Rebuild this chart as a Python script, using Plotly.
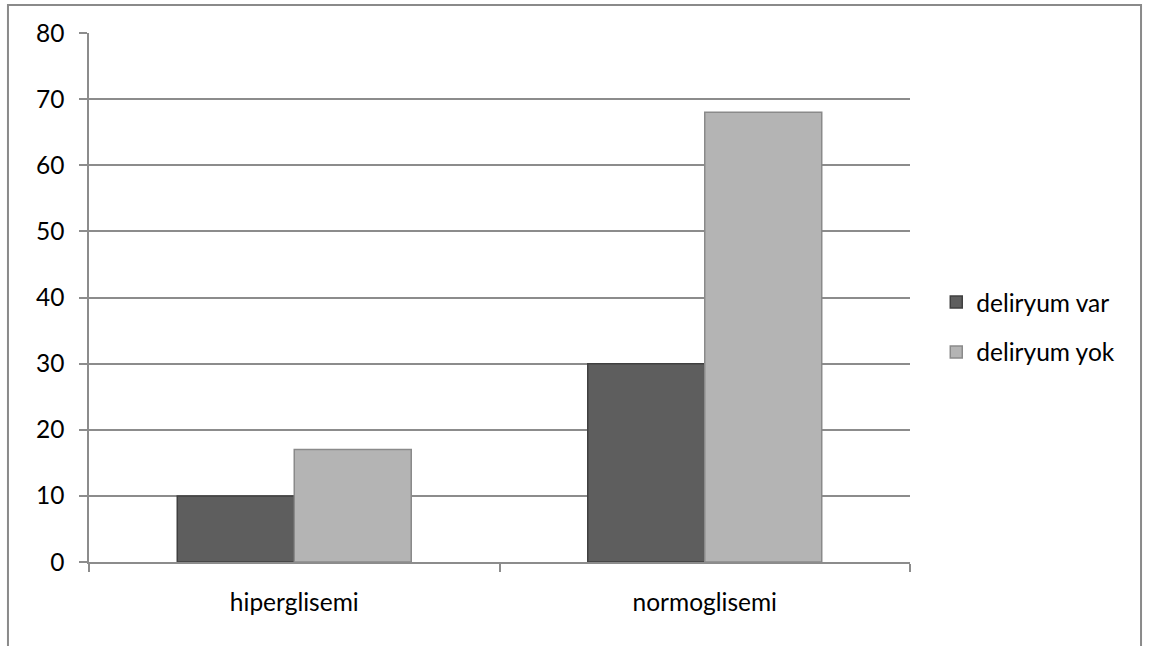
import plotly.graph_objects as go

# Data
categories = ["hiperglisemi", "normoglisemi"]
deliryum_var = [10, 30]
deliryum_yok = [17, 68]
series_names = ["deliryum var", "deliryum yok"]
y_ticks = [0, 10, 20, 30, 40, 50, 60, 70, 80]

FONT = dict(family="Lato, 'Open Sans', sans-serif", size=24.5, color="#000000")
GRID = "#8c8c8c"

fig = go.Figure()
fig.add_trace(go.Bar(
    x=categories, y=deliryum_var, name=series_names[0],
    marker=dict(color="#5e5e5e", line=dict(color="#404040", width=1.5)),
    legendgroup="a",
))
fig.add_trace(go.Bar(
    x=categories, y=deliryum_yok, name=series_names[1],
    marker=dict(color="#b4b4b4", line=dict(color="#8a8a8a", width=1.5)),
    legendgroup="b",
))

# Outer chart frame
fig.add_shape(type="rect", xref="paper", yref="paper",
              x0=-0.0987, x1=1.2814, y0=-0.2, y1=1.0529,
              line=dict(color="#8a8a8a", width=2), fillcolor="rgba(0,0,0,0)",
              layer="below")

fig.update_layout(
    width=1150, height=646,
    margin=dict(l=89, r=240, t=33, b=84),
    paper_bgcolor="white", plot_bgcolor="white",
    font=FONT,
    barmode="group", bargap=0.43, bargroupgap=0,
    showlegend=True,
    legend=dict(x=1.032, y=0.444, xanchor="left", yanchor="middle",
                traceorder="grouped", tracegroupgap=15,
                font=FONT, itemwidth=30),
    xaxis=dict(
        type="category", showgrid=False,
        showline=True, linecolor=GRID, linewidth=1.5,
        ticks="outside", tickson="boundaries", ticklen=8,
        tickcolor=GRID, tickwidth=1.5, tickfont=FONT,
        ticklabelstandoff=18,
    ),
    yaxis=dict(
        range=[0, 80], tickvals=y_ticks,
        showgrid=True, gridcolor=GRID, gridwidth=1.5,
        showline=True, linecolor=GRID, linewidth=1.5,
        ticks="outside", ticklen=8, tickcolor=GRID, tickwidth=1.5,
        tickfont=FONT, zeroline=False, ticklabelstandoff=10,
    ),
)

fig.write_html("out.html")
